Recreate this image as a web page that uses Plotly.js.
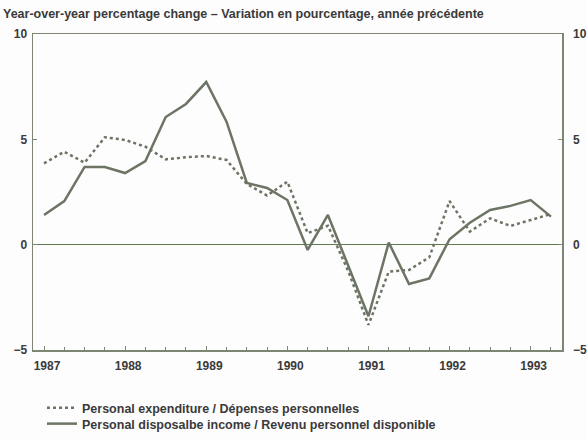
<!DOCTYPE html>
<html><head><meta charset="utf-8">
<script src="https://cdn.plot.ly/plotly-3.0.1.min.js"></script>
<style>body{margin:0;background:#fdfdfd}#chart{width:587px;height:441px}</style>
</head><body><div id="chart"></div>
<script>
// Quarterly periods 1987Q1 .. 1993Q2
const quarters = ["1987Q1","1987Q2","1987Q3","1987Q4","1988Q1","1988Q2","1988Q3","1988Q4",
  "1989Q1","1989Q2","1989Q3","1989Q4","1990Q1","1990Q2","1990Q3","1990Q4",
  "1991Q1","1991Q2","1991Q3","1991Q4","1992Q1","1992Q2","1992Q3","1992Q4",
  "1993Q1","1993Q2"];
const expenditure = [3.86,4.41,3.89,5.10,4.97,4.65,4.05,4.15,
  4.21,4.02,2.88,2.33,2.99,0.55,0.90,-1.25,
  -3.81,-1.28,-1.20,-0.60,2.07,0.62,1.25,0.89,
  1.17,1.46];
const income = [1.41,2.07,3.69,3.69,3.40,3.97,6.06,6.68,
  7.72,5.84,2.93,2.69,2.12,-0.25,1.41,-0.95,
  -3.40,0.10,-1.87,-1.60,0.26,1.04,1.65,1.84,
  2.12,1.33];
const yearTicks = [1987,1988,1989,1990,1991,1992,1993];
const yTicks = [-5,0,5,10];
const seriesNames = ['Personal expenditure / Dépenses personnelles',
  'Personal disposalbe income / Revenu personnel disponible'];

const xPos = quarters.map(q => parseInt(q.slice(0,4)) + (parseInt(q.slice(5)) - 1) / 4);

const lineCol = '#6c7464';
const axisCol = '#7d8672';
const fam = 'Liberation Sans, Arial, sans-serif';
const txtCol = '#3a3a3a';
const tickFont = {family: fam, size: 12, color: txtCol, weight: 'bold'};

const traces = [
  {x: xPos, y: expenditure, type: 'scatter', mode: 'lines', name: seriesNames[0],
   legend: 'legend', line: {color: lineCol, width: 2.5, dash: 'dot'}},
  {x: xPos, y: income, type: 'scatter', mode: 'lines', name: seriesNames[1],
   legend: 'legend2', line: {color: lineCol, width: 2.5}},
  // hidden trace to register the right-hand axis
  {x: [xPos[0]], y: [null], yaxis: 'y2', type: 'scatter', mode: 'lines',
   showlegend: false, hoverinfo: 'skip'}
];

const legendBase = {xref: 'container', yref: 'container', x: 42/587, xanchor: 'left',
  yanchor: 'middle', bgcolor: 'rgba(0,0,0,0)', borderwidth: 0,
  font: {family: fam, size: 12.5, color: txtCol, weight: 'bold'}};

const layout = {
  width: 587, height: 441,
  paper_bgcolor: '#fdfdfd', plot_bgcolor: '#fdfdfd',
  margin: {l: 33, r: 25, t: 34, b: 91, autoexpand: false},
  font: {family: fam, size: 12, color: txtCol},
  title: {text: '<b>Year-over-year percentage change – Variation en pourcentage, année précédente</b>',
    x: 3/587, xanchor: 'left', xref: 'container',
    y: 1 - 14/441, yanchor: 'middle', yref: 'container',
    font: {family: fam, size: 12.5, color: txtCol}},
  xaxis: {range: [1986.864, 1993.386], tickvals: yearTicks, ticktext: yearTicks.map(String),
    showgrid: false, zeroline: false, showline: true, linecolor: axisCol, linewidth: 1.5,
    mirror: true, ticks: 'inside', ticklen: 4, tickcolor: axisCol, tickangle: 0,
    ticklabelshift: 3, ticklabelstandoff: 4,
    minor: {dtick: 0.25, tick0: 1987, ticks: 'inside', ticklen: 3, tickcolor: axisCol},
    tickfont: tickFont},
  yaxis: {range: [-5, 10], tickvals: yTicks, showgrid: false,
    zeroline: true, zerolinecolor: '#5f7a4c', zerolinewidth: 1.5,
    showline: true, linecolor: axisCol, linewidth: 1.5, mirror: true,
    ticks: 'inside', ticklen: 4, tickcolor: axisCol, ticklabelstandoff: 2,
    tickfont: tickFont},
  yaxis2: {range: [-5, 10], tickvals: yTicks, overlaying: 'y', side: 'right',
    showgrid: false, zeroline: false, showline: false, ticks: 'inside', ticklen: 4,
    tickcolor: axisCol, ticklabelstandoff: 10, tickfont: tickFont},
  showlegend: true,
  legend: Object.assign({}, legendBase, {y: 1 - 408/441}),
  legend2: Object.assign({}, legendBase, {y: 1 - 424/441})
};

Plotly.newPlot('chart', traces, layout, {staticPlot: true, displayModeBar: false});
</script></body></html>
